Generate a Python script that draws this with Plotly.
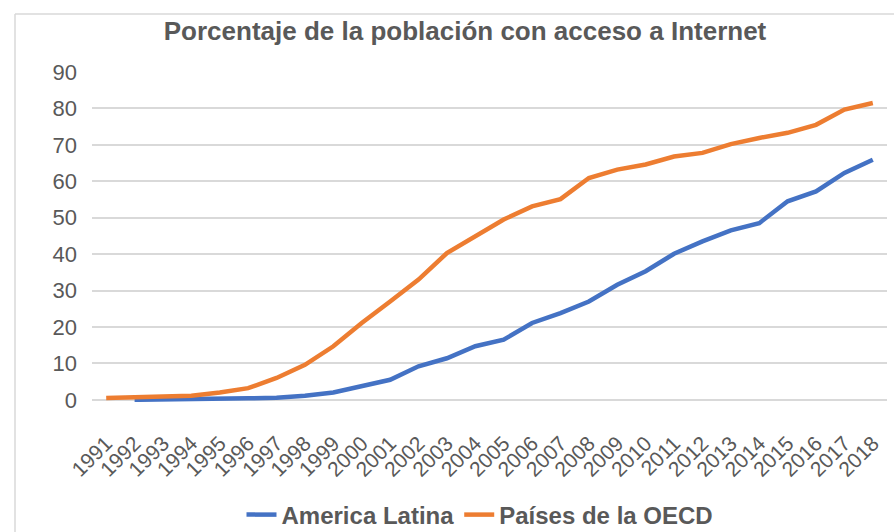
import plotly.graph_objects as go

years = [str(y) for y in range(1991, 2019)]

america_latina = [None, 0.0, 0.05, 0.1, 0.2, 0.4, 0.6, 1.1, 2.0, 3.8, 5.5, 9.2, 11.4, 14.7,
                  16.5, 21.1, 23.8, 27.0, 31.6, 35.3, 40.1, 43.5, 46.5, 48.5, 54.5, 57.2, 62.3, 65.9]

oecd = [0.5, 0.6, 0.7, 1.1, 2.0, 3.2, 6.0, 9.6, 14.7, 21.1, 27.0, 33.0, 40.3, 44.9,
        49.5, 53.1, 55.1, 60.9, 63.2, 64.6, 66.8, 67.8, 70.2, 71.9, 73.3, 75.5, 79.7, 81.5]

y_ticks = [0, 10, 20, 30, 40, 50, 60, 70, 80, 90]

FONT = "Liberation Sans, Arial, sans-serif"
TXT = "#595959"
GRID = "#d9d9d9"

fig = go.Figure()
fig.add_trace(go.Scatter(x=years, y=america_latina, name="America Latina", mode="lines",
                         line=dict(color="#4472C4", width=4.5), connectgaps=False))
fig.add_trace(go.Scatter(x=years, y=oecd, name="Países de la OECD", mode="lines",
                         line=dict(color="#ED7D31", width=4.5)))

L, R, T, B = 92, 7, 72, 130
W, H = 894, 532
ph = H - T - B
pw = W - L - R

def px_to_paper_x(px):
    return (px - L) / pw

def py_to_paper_y(py):
    return (H - B - py) / ph

fig.update_layout(
    width=W, height=H,
    margin=dict(l=L, r=R, t=T, b=B, autoexpand=False),
    paper_bgcolor="white", plot_bgcolor="white",
    font=dict(family=FONT, color=TXT),
    title=dict(text="Porcentaje de la población con acceso a Internet",
               font=dict(family=FONT, size=26, color=TXT, weight="bold"),
               x=465 / W, xref="container", xanchor="center",
               y=1 - 31 / H, yref="container", yanchor="middle"),
    xaxis=dict(type="category", range=[-0.5, 27.5], tickangle=-45, automargin=False,
               tickfont=dict(size=21, color=TXT), showgrid=False,
               showline=False, ticks="", ticklabelstandoff=24),
    yaxis=dict(range=[-0.6, 90], tickvals=y_ticks, showgrid=True, gridcolor=GRID,
               automargin=False,
               gridwidth=1.5, zeroline=True, zerolinecolor=GRID, zerolinewidth=1.5,
               tickfont=dict(size=22, color=TXT), ticklabelstandoff=14, showline=False),
    legend=dict(orientation="h", x=px_to_paper_x(480), xanchor="center",
                y=py_to_paper_y(515), yanchor="middle",
                font=dict(family=FONT, size=24, color=TXT, weight="bold"),
                itemwidth=30, bgcolor="rgba(0,0,0,0)"),
    shapes=[
        dict(type="line", xref="paper", yref="paper",
             x0=px_to_paper_x(15), x1=px_to_paper_x(15),
             y0=py_to_paper_y(14), y1=py_to_paper_y(545),
             line=dict(color=GRID, width=1.5)),
        dict(type="line", xref="paper", yref="paper",
             x0=px_to_paper_x(15), x1=px_to_paper_x(900),
             y0=py_to_paper_y(14), y1=py_to_paper_y(14),
             line=dict(color=GRID, width=1.5)),
    ],
)

fig.write_html("out.html", config={"displayModeBar": False},
               post_script="document.body.style.margin='0';document.body.style.padding='0';")
